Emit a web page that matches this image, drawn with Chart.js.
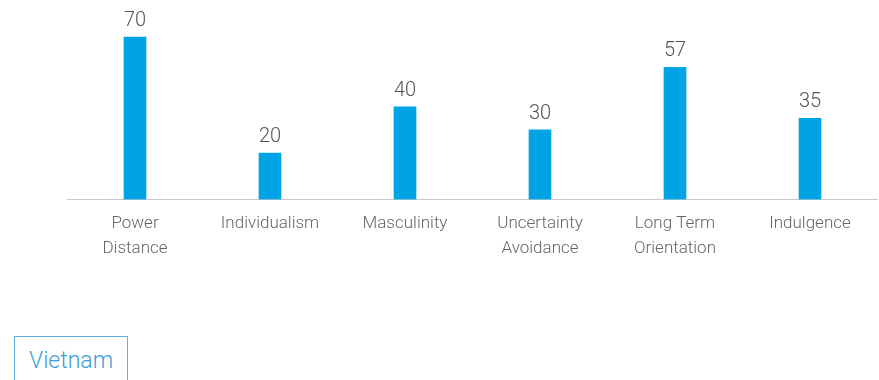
<!DOCTYPE html>
<html>
<head>
<meta charset="utf-8">
<script src="https://cdn.jsdelivr.net/npm/chart.js@4/dist/chart.umd.min.js"></script>
<style>
  body { margin: 0; background: #fff; font-family: Roboto, sans-serif; }
  .wrap { position: relative; width: 879px; height: 380px; overflow: hidden; }
  .chart-box { position: absolute; left: 0; top: 0; width: 879px; height: 272px; }
  .tag {
    position: absolute; left: 14px; top: 336px; width: 114px; height: 60px;
    border: 1px solid #5ab4de; box-sizing: border-box;
    color: #3a9fd9; font-weight: 300; font-size: 23px;
    padding: 10px 0 0 14px;
  }
</style>
</head>
<body>
<div class="wrap">
  <div class="chart-box"><canvas id="chart"></canvas></div>
  <div class="tag">Vietnam</div>
</div>
<script>
const categories = [
  ['Power', 'Distance'],
  'Individualism',
  'Masculinity',
  ['Uncertainty', 'Avoidance'],
  ['Long Term', 'Orientation'],
  'Indulgence'
];
const scores = [70, 20, 40, 30, 57, 35];

// draws the number above each bar
const valueLabels = {
  id: 'valueLabels',
  afterDatasetsDraw(chart) {
    const ctx = chart.ctx;
    const meta = chart.getDatasetMeta(0);
    ctx.save();
    ctx.fillStyle = '#555';
    ctx.font = '300 20px Roboto';
    ctx.textAlign = 'center';
    ctx.textBaseline = 'bottom';
    meta.data.forEach((bar, i) => {
      ctx.fillText(scores[i], bar.x, bar.y - 6);
    });
    ctx.restore();
  }
};

new Chart(document.getElementById('chart'), {
  type: 'bar',
  data: {
    labels: categories,
    datasets: [{
      data: scores,
      backgroundColor: '#00a3e4',
      barThickness: 22,
      borderWidth: 0,
    }],
  },
  options: {
    responsive: true,
    maintainAspectRatio: false,
    animation: false,
    layout: { padding: { left: 67.5, right: 1.5, top: 14, bottom: 0 } },
    plugins: { legend: { display: false }, tooltip: { enabled: false } },
    scales: {
      x: {
        grid: { display: false, drawTicks: false },
        border: { display: true, color: '#c8c8c8', width: 1 },
        ticks: {
          color: '#666',
          font: { family: 'Roboto', size: 17, weight: '300', lineHeight: 1.5 },
          padding: 11,
          maxRotation: 0,
          autoSkip: false,
        },
        afterFit(scale) { scale.height = 72.5; },
      },
      y: {
        display: false,
        min: 0,
        max: 80,
      },
    },
  },
  plugins: [valueLabels],
});
</script>
</body>
</html>
